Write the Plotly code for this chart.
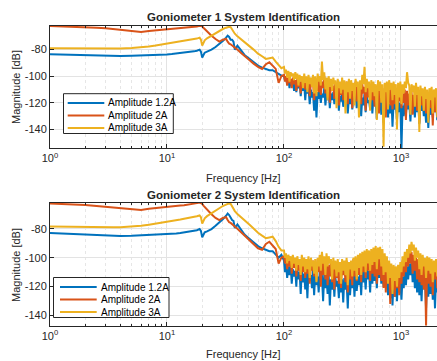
import plotly.graph_objects as go

# ---------------- data ----------------
freq_low = [1, 1.3, 1.6, 2, 2.5, 3, 3.5, 4, 5, 6,
            7, 8, 9, 10, 11, 12, 13, 14, 15, 16,
            17, 18, 19, 19.5, 20, 20.5, 21, 22, 24, 26,
            28, 30, 32, 33, 34, 35, 36, 37, 38, 40,
            43, 46, 50, 55, 60, 65, 70, 75, 80, 85,
            90, 95]
freq_high = [100, 102, 104, 106.5, 109, 111.5, 114, 116.5, 119, 122,
             125, 127.5, 130, 133, 136, 139, 142, 145.5, 149, 152,
             155, 158.5, 162, 166, 170, 173.5, 177, 181, 185, 189.5,
             194, 198, 202, 206.5, 211, 216, 221, 226, 231, 236,
             241, 246.5, 252, 258, 264, 269.5, 275, 281.5, 288, 294.5,
             301, 307.5, 314, 321, 328, 335.5, 343, 351, 359, 367,
             375, 383.5, 392, 400.5, 409, 418.5, 428, 437.5, 447, 457,
             467, 477.5, 488, 499, 510, 521.5, 533, 545, 557, 569.5,
             582, 595, 608, 622, 636, 650, 664, 679, 694, 710,
             726, 742, 758, 775, 792, 810, 828, 846.5, 865, 884.5,
             904, 924.5, 945, 966.5, 988, 1010, 1032, 1055, 1078, 1102.5,
             1127, 1152.5, 1178, 1204.5, 1231, 1258.5, 1286, 1315, 1344, 1374,
             1404, 1435.5, 1467, 1500, 1533, 1567.5, 1602, 1638.5, 1675, 1712.5,
             1750, 1789.5, 1829, 1870, 1911, 1954, 1997, 2042, 2087, 2130]

series_names = ["Amplitude 1.2A", "Amplitude 2A", "Amplitude 3A"]

x_tick_vals = [1, 10, 100, 1000]
x_tick_text = ["10<sup>0</sup>", "10<sup>1</sup>", "10<sup>2</sup>", "10<sup>3</sup>"]
y_tick_vals = [-140, -120, -100, -80]
y_tick_text = ["-140", "-120", "-100", "-80"]

# ---- Goniometer 1 ----
g1_a12_low = [-83.5, -83.8, -84.0, -84.2, -84.4, -84.6, -84.7, -84.8, -84.6, -84.4,
              -84.5, -84.3, -84.0, -83.6, -83.3, -83.0, -82.7, -82.4, -82.0, -81.7,
              -81.3, -80.8, -80.0, -81.5, -86.0, -84.0, -82.3, -81.5, -80.0, -78.0,
              -76.0, -73.5, -71.0, -69.5, -70.5, -72.5, -72.5, -74.0, -80.0, -77.0,
              -80.5, -84.0, -86.5, -89.5, -92.0, -93.5, -94.5, -95.5, -95.5, -97.0,
              -98.0, -99.5]
g1_a12_high = [-100, -103, -101, -106, -102, -109, -104, -107, -103, -111,
               -105, -112, -106, -109, -104, -115, -107, -111, -106, -118,
               -108, -113, -109, -121, -110, -116, -112, -126, -111, -131,
               -112, -117, -110, -120, -113, -116, -109, -122, -112, -118,
               -111, -124, -113, -118, -112, -121, -114, -117, -111, -126,
               -115, -119, -112, -123, -114, -120, -113, -128, -116, -121,
               -113, -125, -115, -119, -112, -124, -117, -121, -114, -130,
               -116, -122, -113, -127, -115, -120, -118, -125, -114, -128,
               -116, -122, -119, -132, -117, -124, -114, -129, -118, -135,
               -120, -126, -117, -131, -121, -128, -116, -138, -119, -125,
               -121, -133, -118, -127, -120, -155, -122, -130, -117, -129,
               -116, -125, -120, -134, -118, -128, -121, -131, -117, -127,
               -118, -136, -121, -126, -119, -130, -122, -135, -120, -139,
               -122, -129, -120, -131, -118, -127, -121, -133, -120, -128]
g1_a2_low = [-62.3, -62.5, -62.8, -63.0, -63.5, -64.0, -64.6, -65.0, -66.0, -66.8,
             -66.0, -65.5, -65.5, -65.0, -64.6, -64.3, -64.0, -63.8, -63.5, -63.2,
             -63.0, -62.6, -62.0, -62.3, -62.5, -63.5, -64.5, -66.5, -69.5, -72.0,
             -74.0, -72.5, -72.0, -74.0, -75.5, -76.0, -77.0, -77.5, -78.5, -80.0,
             -82.5, -85.0, -87.5, -90.5, -93.0, -94.5, -91.0, -89.5, -92.0, -94.5,
             -105.0, -100.0]
g1_a2_high = [-99, -104, -100, -107, -101, -105, -102, -109, -101, -106,
              -103, -111, -102, -108, -104, -113, -101, -107, -103, -110,
              -104, -109, -102, -115, -105, -108, -103, -118, -106, -111,
              -103, -112, -100, -114, -104, -109, -100, -113, -103, -116,
              -105, -120, -104, -111, -107, -117, -104, -113, -106, -122,
              -107, -114, -105, -118, -108, -116, -104, -121, -106, -113,
              -109, -124, -106, -115, -104, -119, -107, -117, -105, -121,
              -106, -113, -108, -126, -106, -116, -109, -120, -107, -118,
              -110, -123, -107, -116, -108, -128, -106, -119, -109, -120,
              -111, -131, -108, -118, -110, -122, -109, -125, -112, -121,
              -112, -127, -110, -119, -111, -124, -113, -120, -110, -133,
              -111, -122, -113, -125, -112, -129, -114, -121, -112, -126,
              -112, -135, -114, -122, -115, -126, -113, -128, -114, -131,
              -116, -124, -114, -137, -115, -127, -113, -125, -116, -129]
g1_a3_low = [-79.0, -79.1, -79.2, -79.3, -79.4, -79.4, -79.3, -79.2, -78.8, -78.3,
             -77.6, -76.9, -76.2, -75.6, -75.0, -74.5, -74.0, -73.5, -73.0, -72.6,
             -72.2, -71.7, -71.0, -72.5, -77.0, -75.0, -73.0, -71.5, -69.5, -67.5,
             -66.0, -64.5, -63.5, -63.0, -62.8, -63.0, -65.0, -66.5, -68.0, -70.0,
             -72.5, -74.5, -77.0, -80.0, -83.0, -85.0, -87.0, -86.5, -86.0, -89.0,
             -92.0, -94.0]
g1_a3_high = [-93, -98, -95, -101, -96, -104, -97, -100, -98, -103,
              -97, -102, -98, -107, -99, -104, -100, -109, -98, -105,
              -100, -112, -99, -106, -101, -108, -99, -113, -100, -115,
              -98, -104, -100, -107, -89, -103, -97, -110, -101, -118,
              -100, -108, -102, -111, -101, -106, -103, -124, -102, -109,
              -104, -113, -101, -110, -103, -128, -104, -112, -102, -117,
              -103, -111, -105, -122, -102, -108, -104, -131, -103, -110,
              -99, -106, -93, -112, -102, -109, -104, -126, -103, -112,
              -104, -115, -106, -133, -103, -111, -104, -120, -106, -153,
              -105, -112, -104, -125, -103, -110, -105, -118, -104, -114,
              -106, -140, -105, -116, -104, -121, -106, -113, -104, -109,
              -97, -105, -107, -129, -106, -112, -107, -123, -105, -114,
              -108, -142, -107, -115, -109, -126, -108, -117, -110, -135,
              -109, -118, -108, -128, -110, -116, -109, -131, -111, -120]

# ---- Goniometer 2 ----
g2_a12_low = [-83.0, -83.4, -83.8, -84.2, -84.6, -85.0, -85.0, -85.0, -84.8, -84.5,
              -84.6, -84.4, -84.2, -83.9, -83.6, -83.3, -83.0, -82.6, -82.3, -81.9,
              -81.5, -81.0, -80.2, -81.5, -86.0, -84.0, -82.5, -81.8, -80.2, -78.0,
              -76.0, -73.5, -71.0, -69.5, -70.5, -72.5, -74.0, -74.5, -79.5, -77.0,
              -80.5, -84.0, -86.5, -89.5, -92.0, -93.5, -94.5, -95.5, -95.5, -97.5,
              -100.0, -98.0]
g2_a12_high = [-102, -110, -104, -114, -106, -112, -105, -118, -108, -113,
               -109, -120, -107, -115, -110, -125, -108, -117, -111, -122,
               -110, -128, -109, -116, -112, -121, -108, -126, -111, -119,
               -113, -124, -110, -118, -112, -130, -111, -121, -114, -125,
               -112, -133, -115, -122, -113, -127, -114, -120, -116, -128,
               -113, -124, -115, -131, -114, -122, -116, -135, -113, -126,
               -114, -121, -112, -127, -111, -123, -113, -119, -110, -126,
               -108, -117, -110, -122, -107, -115, -109, -124, -106, -118,
               -105, -116, -107, -121, -104, -114, -103, -118, -105, -120,
               -107, -119, -110, -126, -112, -128, -114, -133, -115, -127,
               -116, -130, -114, -124, -117, -129, -113, -121, -110, -119,
               -106, -115, -104, -112, -103, -117, -105, -121, -108, -124,
               -109, -126, -111, -130, -110, -122, -112, -135, -111, -127,
               -113, -125, -112, -129, -114, -135, -113, -124, -112, -128]
g2_a2_low = [-62.5, -62.8, -63.2, -63.6, -64.2, -64.8, -65.3, -65.7, -66.3, -67.0,
             -66.2, -65.8, -65.6, -65.2, -64.8, -64.4, -64.0, -63.7, -63.4, -63.0,
             -62.7, -62.3, -61.8, -62.2, -62.8, -64.0, -65.0, -67.0, -70.0, -72.5,
             -74.0, -72.5, -72.0, -74.0, -75.5, -76.0, -77.0, -77.5, -78.5, -80.0,
             -82.5, -85.0, -87.5, -91.0, -93.5, -94.5, -90.5, -89.0, -91.5, -94.0,
             -104.0, -100.0]
g2_a2_high = [-99, -104, -100, -108, -102, -106, -101, -111, -103, -107,
              -102, -113, -104, -109, -101, -116, -103, -110, -102, -114,
              -104, -111, -101, -118, -103, -109, -102, -113, -104, -116,
              -101, -110, -103, -120, -102, -112, -100, -115, -103, -119,
              -105, -113, -102, -117, -104, -122, -103, -114, -106, -118,
              -104, -121, -103, -112, -105, -117, -102, -124, -104, -115,
              -103, -119, -101, -113, -102, -116, -100, -112, -99, -117,
              -98, -110, -99, -114, -97, -109, -98, -116, -96, -111,
              -97, -113, -96, -118, -98, -112, -97, -116, -99, -121,
              -101, -124, -103, -115, -104, -132, -106, -122, -107, -127,
              -108, -121, -109, -126, -106, -118, -102, -113, -100, -110,
              -97, -106, -95, -104, -96, -111, -98, -109, -100, -115,
              -101, -117, -103, -119, -102, -122, -104, -147, -103, -118,
              -105, -120, -104, -126, -106, -115, -105, -121, -107, -119]
g2_a3_low = [-78.4, -78.6, -78.8, -79.0, -79.1, -79.1, -79.0, -78.9, -78.5, -78.0,
             -77.3, -76.6, -75.9, -75.2, -74.6, -74.1, -73.6, -73.1, -72.7, -72.3,
             -71.9, -71.4, -70.8, -72.0, -76.5, -74.5, -72.8, -71.3, -69.3, -67.3,
             -65.8, -64.3, -63.3, -62.8, -62.5, -62.8, -64.8, -66.3, -67.8, -69.8,
             -72.3, -74.3, -76.8, -79.8, -82.8, -84.8, -86.5, -86.0, -85.5, -88.5,
             -92.5, -95.0]
g2_a3_high = [-95, -100, -97, -104, -98, -102, -99, -107, -98, -104,
              -100, -109, -99, -105, -101, -112, -98, -106, -100, -110,
              -101, -108, -99, -114, -100, -106, -102, -111, -101, -117,
              -100, -106, -98, -109, -96, -104, -99, -112, -97, -106,
              -99, -104, -101, -115, -100, -108, -102, -113, -101, -110,
              -103, -118, -101, -109, -102, -112, -100, -119, -103, -108,
              -102, -113, -100, -109, -99, -115, -98, -107, -97, -112,
              -96, -106, -95, -110, -94, -104, -95, -109, -94, -105,
              -93, -103, -92, -108, -93, -101, -92.5, -106, -94, -112,
              -97, -110, -99, -118, -102, -114, -104, -125, -105, -116,
              -106, -120, -105, -114, -103, -110, -99, -106, -96, -103,
              -94, -100, -91, -97, -89, -95, -91, -102, -93, -100,
              -95, -108, -97, -112, -98, -106, -100, -114, -99, -109,
              -100, -111, -101, -117, -102, -110, -101, -113, -102, -112]

colors = ["#0072BD", "#D95319", "#EDB120"]

# ---------------- figure ----------------
W, H = 437.0, 361.0
ML = 50.0
PW = W - ML
LW = 2.0


def px(xp):
    return (xp - ML) / PW


def py(yp):
    return 1 - yp / H


freq = freq_low + freq_high
g1 = [g1_a12_low + g1_a12_high, g1_a2_low + g1_a2_high, g1_a3_low + g1_a3_high]
g2 = [g2_a12_low + g2_a12_high, g2_a2_low + g2_a2_high, g2_a3_low + g2_a3_high]
for s in g1 + g2:
    assert len(s) == len(freq), (len(s), len(freq))

fig = go.Figure()
for i in range(3):
    fig.add_trace(go.Scatter(x=freq, y=g1[i], mode="lines", name=series_names[i],
                             line=dict(color=colors[i], width=LW),
                             xaxis="x", yaxis="y", showlegend=False))
for i in range(3):
    fig.add_trace(go.Scatter(x=freq, y=g2[i], mode="lines", name=series_names[i],
                             line=dict(color=colors[i], width=LW),
                             xaxis="x2", yaxis="y2", showlegend=False))

font_family = "Liberation Sans, Arial, sans-serif"
axis_color = "#262626"
grid_color = "#e3e3e3"

minor_vals = [m * d for d in (1, 10, 100, 1000) for m in range(2, 10)]


def xaxis_style(anchor):
    return dict(type="log", range=[0, 3.308], anchor=anchor, automargin=False,
                tickvals=x_tick_vals, ticktext=x_tick_text,
                showline=True, linecolor=axis_color, linewidth=1, mirror="ticks",
                ticks="inside", ticklen=4, tickcolor=axis_color,
                showgrid=True, gridcolor=grid_color, gridwidth=1,
                minor=dict(tickvals=minor_vals, showgrid=True, gridcolor="#e6e6e6",
                           griddash="dot", ticks="inside", ticklen=2, tickcolor=axis_color),
                tickfont=dict(family=font_family, size=11, color=axis_color),
                zeroline=False)


def yaxis_style(anchor, rng, domain):
    return dict(range=rng, domain=domain, anchor=anchor, automargin=False,
                tickvals=y_tick_vals, ticktext=y_tick_text,
                showline=True, linecolor=axis_color, linewidth=1, mirror=False,
                ticks="inside", ticklen=4, tickcolor=axis_color,
                showgrid=True, gridcolor=grid_color, gridwidth=1,
                tickfont=dict(family=font_family, size=11, color=axis_color),
                zeroline=False)


fig.update_layout(
    width=437, height=361,
    margin=dict(l=50, r=0, t=0, b=0, autoexpand=False),
    paper_bgcolor="white", plot_bgcolor="white",
    showlegend=False,
    xaxis=xaxis_style("y"),
    yaxis=yaxis_style("x", [-154, -62], [py(148), py(25.7)]),
    xaxis2=xaxis_style("y2"),
    yaxis2=yaxis_style("x2", [-147, -62], [py(325.7), py(202.7)]),
)

annos = [
    dict(text="<b>Goniometer 1 System Identification</b>", y=17, size=11.5),
    dict(text="<b>Goniometer 2 System Identification</b>", y=195, size=11.5),
    dict(text="Frequency [Hz]", y=178, size=11),
    dict(text="Frequency [Hz]", y=354, size=11),
]
for a in annos:
    fig.add_annotation(text=a["text"], x=0.5, y=py(a["y"]), xref="paper", yref="paper",
                       xanchor="center", yanchor="middle", showarrow=False,
                       font=dict(family=font_family, size=a["size"], color=axis_color))
for yc in (87, 265):
    fig.add_annotation(text="Magnitude [dB]", x=px(16), y=py(yc),
                       xref="paper", yref="paper", xanchor="center", yanchor="middle",
                       showarrow=False, textangle=-90,
                       font=dict(family=font_family, size=11, color=axis_color))

# manual legends (box, line samples, labels)
legends = [
    dict(box=(63.5, 93.7, 173.3, 133.5), line=(67.7, 104.3), text_x=105.7, rows=(103, 115.5, 128)),
    dict(box=(53.5, 277.5, 169.0, 317.5), line=(60.0, 96.7), text_x=99.3, rows=(287, 299.5, 312)),
]
for lg in legends:
    x0, y0, x1, y1 = lg["box"]
    fig.add_shape(type="rect", xref="paper", yref="paper",
                  x0=px(x0), y0=py(y1), x1=px(x1), y1=py(y0),
                  line=dict(color=axis_color, width=1), fillcolor="white", layer="above")
    for i, ry in enumerate(lg["rows"]):
        fig.add_shape(type="line", xref="paper", yref="paper",
                      x0=px(lg["line"][0]), x1=px(lg["line"][1]), y0=py(ry), y1=py(ry),
                      line=dict(color=colors[i], width=LW), layer="above")
        fig.add_annotation(text=series_names[i], x=px(lg["text_x"]), y=py(ry),
                           xref="paper", yref="paper", xanchor="left", yanchor="middle",
                           showarrow=False,
                           font=dict(family=font_family, size=10, color="black"))

fig.write_html("out.html", config={"displayModeBar": False},
               post_script="document.body.style.margin='0';document.body.style.overflow='hidden';")
